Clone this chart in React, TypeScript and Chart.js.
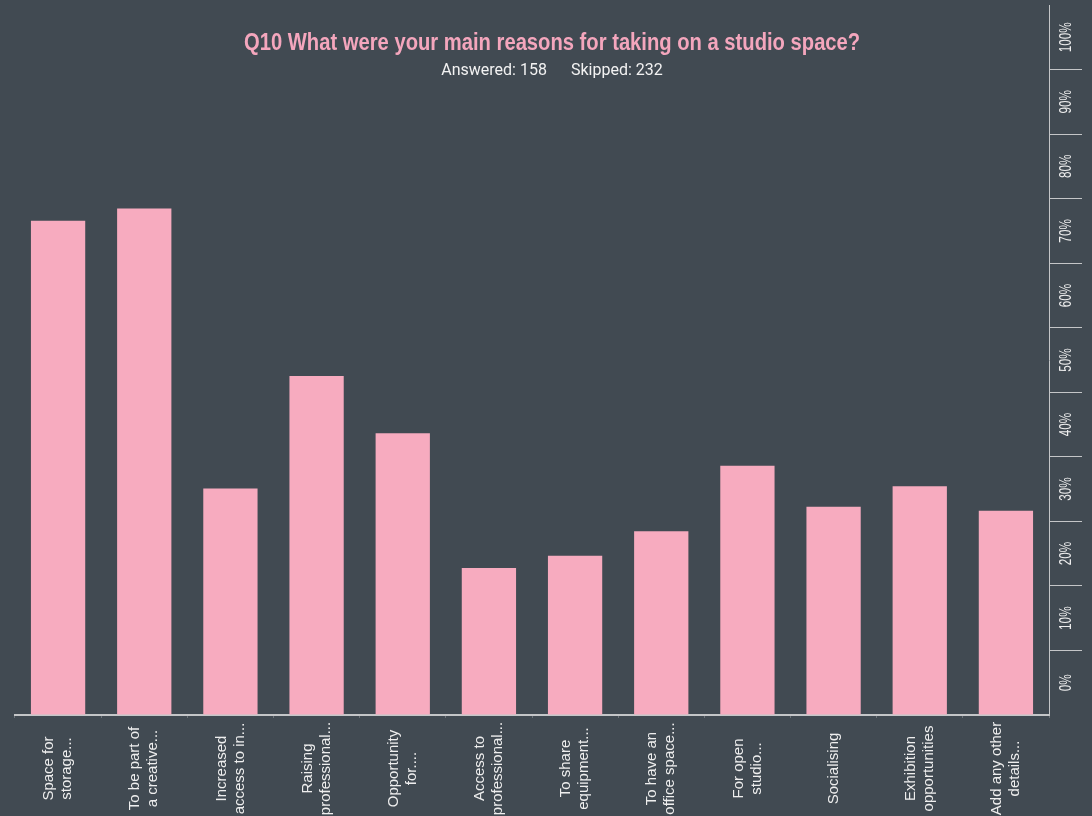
import React, { useEffect, useLayoutEffect, useRef } from "react";
import { Chart, registerables } from "chart.js";

Chart.register(...registerables);

const titleText = "Q10 What were your main reasons for taking on a studio space?";
const answeredText = "Answered: 158";
const skippedText = "Skipped: 232";

const categories: string[][] = [
  ["Space for", "storage..."],
  ["To be part of", "a creative..."],
  ["Increased", "access to in..."],
  ["Raising", "professional..."],
  ["Opportunity", "for...."],
  ["Access to", "professional..."],
  ["To share", "equipment..."],
  ["To have an", "office space..."],
  ["For open", "studio..."],
  ["Socialising"],
  ["Exhibition", "opportunities"],
  ["Add any other", "details..."],
];

const responsePercent = [76.58, 78.48, 35.1, 52.53, 43.67, 22.78, 24.68, 28.48, 38.61, 32.28, 35.44, 31.65];

const yTickValues = [0, 10, 20, 30, 40, 50, 60, 70, 80, 90, 100];
const yTickLabels = ["0%", "10%", "20%", "30%", "40%", "50%", "60%", "70%", "80%", "90%", "100%"];

const BG = "#414a52";
const PINK = "#f7abbf";
const AXIS = "#c4c6c8";
const TEXT = "#eeeeee";
const TITLE_WIDTH = 616;
const Y_LABEL_LEN = 30;

const rotatedLabels = {
  id: "rotatedLabels",
  afterDraw(chart: any) {
    const ctx = chart.ctx;
    const xs = chart.scales.x;
    const ys = chart.scales.y;
    ctx.save();
    ctx.fillStyle = TEXT;
    ctx.textAlign = "center";
    ctx.textBaseline = "middle";
    ctx.font = "15px 'Liberation Sans', Arial, sans-serif";
    categories.forEach((lines, i) => {
      const x = xs.getPixelForValue(i);
      const cy = xs.top + 53.5;
      ctx.save();
      ctx.translate(x, cy);
      ctx.rotate(-Math.PI / 2);
      lines.forEach((t, j) => {
        const off = (j - (lines.length - 1) / 2) * 18;
        ctx.fillText(t, 0, off);
      });
      ctx.restore();
    });
    ctx.font = "16px 'Liberation Sans', Arial, sans-serif";
    const squeeze = Y_LABEL_LEN / ctx.measureText("100%").width;
    yTickValues.forEach((v, i) => {
      const y = ys.getPixelForValue(v + 5);
      const x = ys.left + 18;
      ctx.save();
      ctx.translate(x, y);
      ctx.rotate(-Math.PI / 2);
      ctx.scale(squeeze, 1);
      ctx.fillText(yTickLabels[i], 0, 0);
      ctx.restore();
    });
    ctx.restore();
  },
};

export default function App() {
  const ref = useRef<HTMLCanvasElement | null>(null);
  const titleRef = useRef<HTMLSpanElement | null>(null);

  useLayoutEffect(() => {
    const el = titleRef.current;
    if (!el) return;
    const w = el.offsetWidth;
    if (w > 0) el.style.transform = `scaleX(${TITLE_WIDTH / w})`;
  }, []);

  useEffect(() => {
    if (!ref.current) return;
    const chart = new Chart(ref.current, {
      type: "bar",
      data: {
        labels: categories.map((c) => c.join(" ")),
        datasets: [
          {
            data: responsePercent,
            backgroundColor: PINK,
            borderWidth: 0,
            barPercentage: 0.63,
            categoryPercentage: 1,
          },
        ],
      },
      options: {
        animation: false,
        responsive: true,
        maintainAspectRatio: false,
        layout: { padding: { left: 15, right: 10, top: 5, bottom: 0 } },
        plugins: {
          legend: { display: false },
          title: { display: false },
          tooltip: { enabled: false },
        },
        scales: {
          x: {
            grid: {
              display: true,
              drawOnChartArea: false,
              drawTicks: true,
              tickLength: 3,
              color: "rgba(196,198,200,0.35)",
              offset: true,
            },
            border: { display: true, color: AXIS, width: 2 },
            ticks: { display: false },
            afterFit: (scale: any) => {
              scale.height = 101;
            },
          },
          y: {
            position: "right",
            min: 0,
            max: 110,
            ticks: { display: false, stepSize: 10 },
            grid: {
              display: true,
              drawOnChartArea: false,
              drawTicks: true,
              tickLength: 33,
              lineWidth: 1,
              color: (c: any) => {
                const v = c.tick ? c.tick.value : 0;
                return v === 0 || v === 110 ? "rgba(0,0,0,0)" : AXIS;
              },
            },
            border: { display: true, color: AXIS, width: 1 },
            afterFit: (scale: any) => {
              scale.width = 33;
            },
          },
        },
      },
      plugins: [rotatedLabels],
    });
    return () => chart.destroy();
  }, []);

  return (
    <div
      style={{
        position: "absolute",
        left: 0,
        top: 0,
        width: 1092,
        height: 816,
        background: BG,
        overflow: "hidden",
      }}
    >
      <canvas ref={ref} style={{ position: "absolute", left: 0, top: 0, width: 1092, height: 816 }} />
      <div
        style={{
          position: "absolute",
          left: 6,
          top: 27,
          width: 1092,
          textAlign: "center",
          color: "#f4a6bd",
          fontFamily: "'Liberation Sans', Arial, sans-serif",
          fontWeight: 700,
          fontSize: 24,
          lineHeight: "30px",
          whiteSpace: "nowrap",
        }}
      >
        <span ref={titleRef} style={{ display: "inline-block", transformOrigin: "50% 50%" }}>
          {titleText}
        </span>
      </div>
      <div
        style={{
          position: "absolute",
          left: 6,
          top: 60,
          width: 1092,
          textAlign: "center",
          color: "#f2f2f2",
          fontFamily: "Roboto, 'Noto Sans', sans-serif",
          fontSize: 16,
          lineHeight: "19px",
          whiteSpace: "nowrap",
        }}
      >
        <span>{answeredText}</span>
        <span style={{ display: "inline-block", width: 24 }} />
        <span>{skippedText}</span>
      </div>
    </div>
  );
}
